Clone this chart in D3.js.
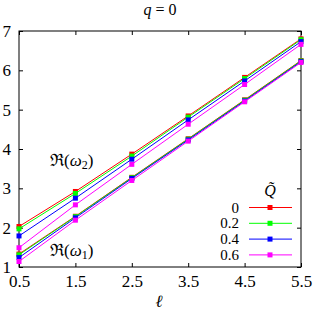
<!DOCTYPE html>
<html>
<head>
<meta charset="utf-8">
<script src="https://cdn.jsdelivr.net/npm/d3@7"></script>
<style>
  body { margin: 0; background: #fff; }
</style>
</head>
<body>
<div id="chart"></div>
<script>
/* q = 0 : real part of omega vs ell */

const width = 317, height = 313,
    margin = ({ top: 31, right: 16, bottom: 46, left: 19 });
const font = "Liberation Serif";

const ells = [0.5, 1.5, 2.5, 3.5, 4.5, 5.5];
const qLabels = ["0", "0.2", "0.4", "0.6"];
const colors = ["#ff0000", "#00ff00", "#0000ff", "#ff00ff"];

// Re(omega_2), one array per Q~
const w2Q0  = [2.03, 2.92, 3.87, 4.84, 5.82, 6.80];
const w2Q02 = [1.97, 2.87, 3.82, 4.81, 5.79, 6.78];
const w2Q04 = [1.79, 2.75, 3.74, 4.74, 5.73, 6.73];
const w2Q06 = [1.49, 2.58, 3.61, 4.63, 5.64, 6.66];

// Re(omega_1)
const w1Q0  = [1.33, 2.29, 3.28, 4.26, 5.25, 6.25];
const w1Q02 = [1.31, 2.28, 3.27, 4.25, 5.24, 6.24];
const w1Q04 = [1.24, 2.25, 3.25, 4.23, 5.22, 6.22];
const w1Q06 = [1.14, 2.19, 3.20, 4.20, 5.20, 6.20];

const yTicks = [1, 2, 3, 4, 5, 6, 7];

const series2 = [w2Q0, w2Q02, w2Q04, w2Q06];
const series1 = [w1Q0, w1Q02, w1Q04, w1Q06];

const svg = d3.select("#chart")
    .append("svg")
    .attr("width", width)
    .attr("height", height);

let x = d3.scaleLinear()
    .domain([0.5, 5.5])
    .range([margin.left, width - margin.right]);

let y = d3.scaleLinear()
    .domain([1, 7])
    .range([height - margin.bottom, margin.top]);

// axes with inward ticks
svg.append("g")
    .attr("transform", `translate(0,${height - margin.bottom})`)
    .call(d3.axisBottom(x).tickValues(ells).tickFormat(d3.format(".1f")).tickSizeInner(-4).tickSizeOuter(0).tickPadding(8))
    .call(g => g.attr("font-family", font).attr("font-size", 17))
    .call(g => g.select(".domain").remove());

svg.append("g")
    .attr("transform", `translate(0,${margin.top})`)
    .call(d3.axisTop(x).tickValues(ells).tickFormat("").tickSizeInner(-4).tickSizeOuter(0))
    .call(g => g.select(".domain").remove());

svg.append("g")
    .attr("transform", `translate(${margin.left},0)`)
    .call(d3.axisLeft(y).tickValues(yTicks).tickFormat(d3.format("d")).tickSizeInner(-4).tickSizeOuter(0).tickPadding(8))
    .call(g => g.attr("font-family", font).attr("font-size", 17))
    .call(g => g.select(".domain").remove());

svg.append("g")
    .attr("transform", `translate(${width - margin.right},0)`)
    .call(d3.axisRight(y).tickValues(yTicks).tickFormat("").tickSizeInner(-4).tickSizeOuter(0))
    .call(g => g.select(".domain").remove());

svg.append("rect") // frame
    .attr("x", margin.left)
    .attr("y", margin.top)
    .attr("width", width - margin.left - margin.right)
    .attr("height", height - margin.top - margin.bottom)
    .attr("fill", "none")
    .attr("stroke", "#000")
    .attr("stroke-width", 1);

let line = d3.line()
    .x((d, i) => x(ells[i]))
    .y(d => y(d));

const plot = svg.append("g");

[series2, series1].forEach(group => {
  group.forEach((vals, k) => {
    plot.append("path")
        .datum(vals)
        .attr("d", line)
        .attr("fill", "none")
        .attr("stroke", colors[k])
        .attr("stroke-width", 1);
    plot.selectAll(null)
        .data(vals)
        .join("rect")
        .attr("x", (d, i) => x(ells[i]) - 2.5)
        .attr("y", d => y(d) - 2.5)
        .attr("width", 5)
        .attr("height", 5)
        .attr("fill", colors[k]);
  });
});

// labels
const labels = svg.append("g")
    .attr("font-family", font)
    .attr("font-size", 17);

labels.append("text")
    .attr("x", 160)
    .attr("y", 15)
    .attr("font-size", 16)
    .attr("text-anchor", "middle")
    .html('<tspan font-style="italic">q</tspan> = 0');

labels.append("text")
    .attr("x", 159)
    .attr("y", 307)
    .attr("text-anchor", "middle")
    .attr("font-style", "italic")
    .text("ℓ");

labels.append("text")
    .attr("x", 50)
    .attr("y", 166)
    .html('ℜ(<tspan font-style="italic">ω</tspan><tspan font-size="12" dy="3">2</tspan><tspan dy="-3">)</tspan>');

labels.append("text")
    .attr("x", 50)
    .attr("y", 256)
    .html('ℜ(<tspan font-style="italic">ω</tspan><tspan font-size="12" dy="3">1</tspan><tspan dy="-3">)</tspan>');

// legend
const legend = svg.append("g")
    .attr("font-family", font)
    .attr("font-size", 15);

legend.append("text")
    .attr("x", 270)
    .attr("y", 196)
    .attr("font-size", 16)
    .attr("text-anchor", "middle")
    .attr("font-style", "italic")
    .text("Q\u0303");

qLabels.forEach((lab, k) => {
  const ly = 207.5 + k * 15.8;
  legend.append("text")
      .attr("x", 239)
      .attr("y", ly + 5)
      .attr("text-anchor", "end")
      .text(lab);
  legend.append("line")
      .attr("x1", 249).attr("x2", 292)
      .attr("y1", ly).attr("y2", ly)
      .attr("stroke", colors[k])
      .attr("stroke-width", 1);
  legend.append("rect")
      .attr("x", 270 - 2.5).attr("y", ly - 2.5)
      .attr("width", 5).attr("height", 5)
      .attr("fill", colors[k]);
});
</script>
</body>
</html>
